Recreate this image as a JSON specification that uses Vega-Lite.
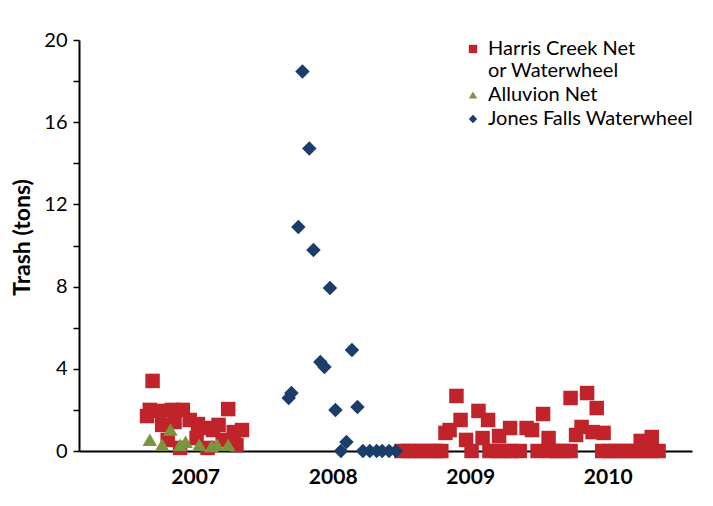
{
  "$schema": "https://vega.github.io/schema/vega-lite/v6.json",
  "width": 613,
  "height": 411,
  "autosize": "none",
  "padding": {"left": 79, "top": 40, "right": 21, "bottom": 55},
  "background": "white",
  "config": {"view": {"stroke": null}, "font": "Lato"},
  "datasets": {
    "pts": [
      {"site": "Harris Creek Net or Waterwheel", "year": 2007.19, "tons": 3.41},
      {"site": "Harris Creek Net or Waterwheel", "year": 2007.15, "tons": 1.70},
      {"site": "Harris Creek Net or Waterwheel", "year": 2007.17, "tons": 2.00},
      {"site": "Harris Creek Net or Waterwheel", "year": 2007.24, "tons": 1.95},
      {"site": "Harris Creek Net or Waterwheel", "year": 2007.33, "tons": 2.00},
      {"site": "Harris Creek Net or Waterwheel", "year": 2007.41, "tons": 2.00},
      {"site": "Harris Creek Net or Waterwheel", "year": 2007.26, "tons": 1.27},
      {"site": "Harris Creek Net or Waterwheel", "year": 2007.35, "tons": 1.41},
      {"site": "Harris Creek Net or Waterwheel", "year": 2007.46, "tons": 1.51},
      {"site": "Harris Creek Net or Waterwheel", "year": 2007.52, "tons": 1.31},
      {"site": "Harris Creek Net or Waterwheel", "year": 2007.57, "tons": 1.12},
      {"site": "Harris Creek Net or Waterwheel", "year": 2007.63, "tons": 1.02},
      {"site": "Harris Creek Net or Waterwheel", "year": 2007.67, "tons": 1.27},
      {"site": "Harris Creek Net or Waterwheel", "year": 2007.74, "tons": 2.04},
      {"site": "Harris Creek Net or Waterwheel", "year": 2007.78, "tons": 0.92},
      {"site": "Harris Creek Net or Waterwheel", "year": 2007.84, "tons": 1.02},
      {"site": "Harris Creek Net or Waterwheel", "year": 2007.80, "tons": 0.29},
      {"site": "Harris Creek Net or Waterwheel", "year": 2007.59, "tons": 0.15},
      {"site": "Harris Creek Net or Waterwheel", "year": 2007.39, "tons": 0.15},
      {"site": "Harris Creek Net or Waterwheel", "year": 2007.70, "tons": 0.54},
      {"site": "Harris Creek Net or Waterwheel", "year": 2007.30, "tons": 0.54},
      {"site": "Harris Creek Net or Waterwheel", "year": 2007.51, "tons": 0.63},
      {"site": "Harris Creek Net or Waterwheel", "year": 2009.00, "tons": 0},
      {"site": "Harris Creek Net or Waterwheel", "year": 2009.05, "tons": 0},
      {"site": "Harris Creek Net or Waterwheel", "year": 2009.10, "tons": 0},
      {"site": "Harris Creek Net or Waterwheel", "year": 2009.15, "tons": 0},
      {"site": "Harris Creek Net or Waterwheel", "year": 2009.20, "tons": 0},
      {"site": "Harris Creek Net or Waterwheel", "year": 2009.25, "tons": 0},
      {"site": "Harris Creek Net or Waterwheel", "year": 2009.29, "tons": 0},
      {"site": "Harris Creek Net or Waterwheel", "year": 2009.32, "tons": 0.88},
      {"site": "Harris Creek Net or Waterwheel", "year": 2009.35, "tons": 1.02},
      {"site": "Harris Creek Net or Waterwheel", "year": 2009.40, "tons": 2.68},
      {"site": "Harris Creek Net or Waterwheel", "year": 2009.43, "tons": 1.51},
      {"site": "Harris Creek Net or Waterwheel", "year": 2009.47, "tons": 0.54},
      {"site": "Harris Creek Net or Waterwheel", "year": 2009.51, "tons": 0},
      {"site": "Harris Creek Net or Waterwheel", "year": 2009.56, "tons": 1.95},
      {"site": "Harris Creek Net or Waterwheel", "year": 2009.59, "tons": 0.63},
      {"site": "Harris Creek Net or Waterwheel", "year": 2009.63, "tons": 1.51},
      {"site": "Harris Creek Net or Waterwheel", "year": 2009.64, "tons": 0},
      {"site": "Harris Creek Net or Waterwheel", "year": 2009.70, "tons": 0},
      {"site": "Harris Creek Net or Waterwheel", "year": 2009.71, "tons": 0.73},
      {"site": "Harris Creek Net or Waterwheel", "year": 2009.75, "tons": 0},
      {"site": "Harris Creek Net or Waterwheel", "year": 2009.79, "tons": 1.12},
      {"site": "Harris Creek Net or Waterwheel", "year": 2009.80, "tons": 0},
      {"site": "Harris Creek Net or Waterwheel", "year": 2009.86, "tons": 0},
      {"site": "Harris Creek Net or Waterwheel", "year": 2009.91, "tons": 1.12},
      {"site": "Harris Creek Net or Waterwheel", "year": 2009.95, "tons": 1.02},
      {"site": "Harris Creek Net or Waterwheel", "year": 2009.99, "tons": 0},
      {"site": "Harris Creek Net or Waterwheel", "year": 2010.03, "tons": 1.80},
      {"site": "Harris Creek Net or Waterwheel", "year": 2010.07, "tons": 0.63},
      {"site": "Harris Creek Net or Waterwheel", "year": 2010.08, "tons": 0},
      {"site": "Harris Creek Net or Waterwheel", "year": 2010.13, "tons": 0},
      {"site": "Harris Creek Net or Waterwheel", "year": 2010.18, "tons": 0},
      {"site": "Harris Creek Net or Waterwheel", "year": 2010.23, "tons": 0},
      {"site": "Harris Creek Net or Waterwheel", "year": 2010.23, "tons": 2.58},
      {"site": "Harris Creek Net or Waterwheel", "year": 2010.27, "tons": 0.78},
      {"site": "Harris Creek Net or Waterwheel", "year": 2010.31, "tons": 1.17},
      {"site": "Harris Creek Net or Waterwheel", "year": 2010.35, "tons": 2.82},
      {"site": "Harris Creek Net or Waterwheel", "year": 2010.39, "tons": 0.92},
      {"site": "Harris Creek Net or Waterwheel", "year": 2010.42, "tons": 2.09},
      {"site": "Harris Creek Net or Waterwheel", "year": 2010.47, "tons": 0.88},
      {"site": "Harris Creek Net or Waterwheel", "year": 2010.46, "tons": 0},
      {"site": "Harris Creek Net or Waterwheel", "year": 2010.51, "tons": 0},
      {"site": "Harris Creek Net or Waterwheel", "year": 2010.56, "tons": 0},
      {"site": "Harris Creek Net or Waterwheel", "year": 2010.61, "tons": 0},
      {"site": "Harris Creek Net or Waterwheel", "year": 2010.66, "tons": 0},
      {"site": "Harris Creek Net or Waterwheel", "year": 2010.71, "tons": 0},
      {"site": "Harris Creek Net or Waterwheel", "year": 2010.76, "tons": 0},
      {"site": "Harris Creek Net or Waterwheel", "year": 2010.82, "tons": 0},
      {"site": "Harris Creek Net or Waterwheel", "year": 2010.87, "tons": 0},
      {"site": "Harris Creek Net or Waterwheel", "year": 2010.74, "tons": 0.49},
      {"site": "Harris Creek Net or Waterwheel", "year": 2010.82, "tons": 0.68},
      {"site": "Alluvion Net", "year": 2007.17, "tons": 0.55},
      {"site": "Alluvion Net", "year": 2007.26, "tons": 0.30},
      {"site": "Alluvion Net", "year": 2007.32, "tons": 1.05},
      {"site": "Alluvion Net", "year": 2007.39, "tons": 0.30},
      {"site": "Alluvion Net", "year": 2007.43, "tons": 0.45},
      {"site": "Alluvion Net", "year": 2007.53, "tons": 0.30},
      {"site": "Alluvion Net", "year": 2007.62, "tons": 0.25},
      {"site": "Alluvion Net", "year": 2007.66, "tons": 0.30},
      {"site": "Alluvion Net", "year": 2007.74, "tons": 0.30},
      {"site": "Jones Falls Waterwheel", "year": 2008.18, "tons": 2.58},
      {"site": "Jones Falls Waterwheel", "year": 2008.20, "tons": 2.82},
      {"site": "Jones Falls Waterwheel", "year": 2008.25, "tons": 10.9},
      {"site": "Jones Falls Waterwheel", "year": 2008.28, "tons": 18.47},
      {"site": "Jones Falls Waterwheel", "year": 2008.33, "tons": 14.72},
      {"site": "Jones Falls Waterwheel", "year": 2008.36, "tons": 9.78},
      {"site": "Jones Falls Waterwheel", "year": 2008.41, "tons": 4.33},
      {"site": "Jones Falls Waterwheel", "year": 2008.44, "tons": 4.09},
      {"site": "Jones Falls Waterwheel", "year": 2008.48, "tons": 7.93},
      {"site": "Jones Falls Waterwheel", "year": 2008.52, "tons": 2.0},
      {"site": "Jones Falls Waterwheel", "year": 2008.56, "tons": 0},
      {"site": "Jones Falls Waterwheel", "year": 2008.60, "tons": 0.44},
      {"site": "Jones Falls Waterwheel", "year": 2008.64, "tons": 4.91},
      {"site": "Jones Falls Waterwheel", "year": 2008.68, "tons": 2.14},
      {"site": "Jones Falls Waterwheel", "year": 2008.72, "tons": 0},
      {"site": "Jones Falls Waterwheel", "year": 2008.77, "tons": 0},
      {"site": "Jones Falls Waterwheel", "year": 2008.82, "tons": 0},
      {"site": "Jones Falls Waterwheel", "year": 2008.86, "tons": 0},
      {"site": "Jones Falls Waterwheel", "year": 2008.91, "tons": 0},
      {"site": "Jones Falls Waterwheel", "year": 2008.96, "tons": 0}
    ]
  },
  "data": {"name": "pts"},
  "mark": {"type": "point", "filled": true, "opacity": 1, "size": 210, "strokeWidth": 0},
  "encoding": {
    "x": {
      "field": "year", "type": "quantitative",
      "scale": {"domain": [2006.655, 2011.113], "nice": false, "zero": false},
      "axis": {
        "title": null, "values": [2007.5, 2008.5, 2009.5, 2010.5],
        "labelExpr": "'' + floor(datum.value)",
        "ticks": false, "grid": false, "domainColor": "black", "domainWidth": 2,
        "labelFont": "Lato", "labelFontWeight": "bold", "labelFontSize": 21,
        "labelColor": "black", "labelPadding": 15
      }
    },
    "y": {
      "field": "tons", "type": "quantitative",
      "scale": {"domain": [0, 20], "nice": false},
      "axis": {
        "title": "Trash (tons)",
        "values": [0, 2, 4, 6, 8, 10, 12, 14, 16, 18, 20],
        "labelExpr": "datum.value % 4 == 0 ? datum.label : ''",
        "grid": false, "domainColor": "black", "domainWidth": 2,
        "tickColor": "black", "tickSize": 6, "tickWidth": 1.5,
        "labelFont": "Lato", "labelFontSize": 20, "labelColor": "black", "labelPadding": 6,
        "titleFont": "Lato", "titleFontSize": 23, "titleFontWeight": "bold", "titleColor": "black", "titlePadding": 9,
        "titleY": 197
      }
    },
    "color": {
      "field": "site", "type": "nominal",
      "scale": {"domain": ["Harris Creek Net or Waterwheel", "Alluvion Net", "Jones Falls Waterwheel"], "range": ["#C1232B", "#7A963C", "#1B3D69"]},
      "legend": {
        "title": null, "orient": "none", "legendX": 384, "legendY": -1,
        "labelExpr": "datum.label == 'Harris Creek Net or Waterwheel' ? ['Harris Creek Net', 'or Waterwheel'] : datum.label",
        "labelFont": "Lato", "labelFontSize": 20, "labelColor": "black", "labelLimit": 400,
        "symbolSize": 70, "rowPadding": 4, "labelOffset": 5
      }
    },
    "shape": {
      "field": "site", "type": "nominal",
      "scale": {"domain": ["Harris Creek Net or Waterwheel", "Alluvion Net", "Jones Falls Waterwheel"], "range": ["square", "triangle-up", "diamond"]},
      "legend": {
        "title": null, "orient": "none", "legendX": 384, "legendY": -1,
        "labelExpr": "datum.label == 'Harris Creek Net or Waterwheel' ? ['Harris Creek Net', 'or Waterwheel'] : datum.label",
        "labelFont": "Lato", "labelFontSize": 20, "labelColor": "black", "labelLimit": 400,
        "symbolSize": 70, "rowPadding": 4, "labelOffset": 5
      }
    }
  }
}
